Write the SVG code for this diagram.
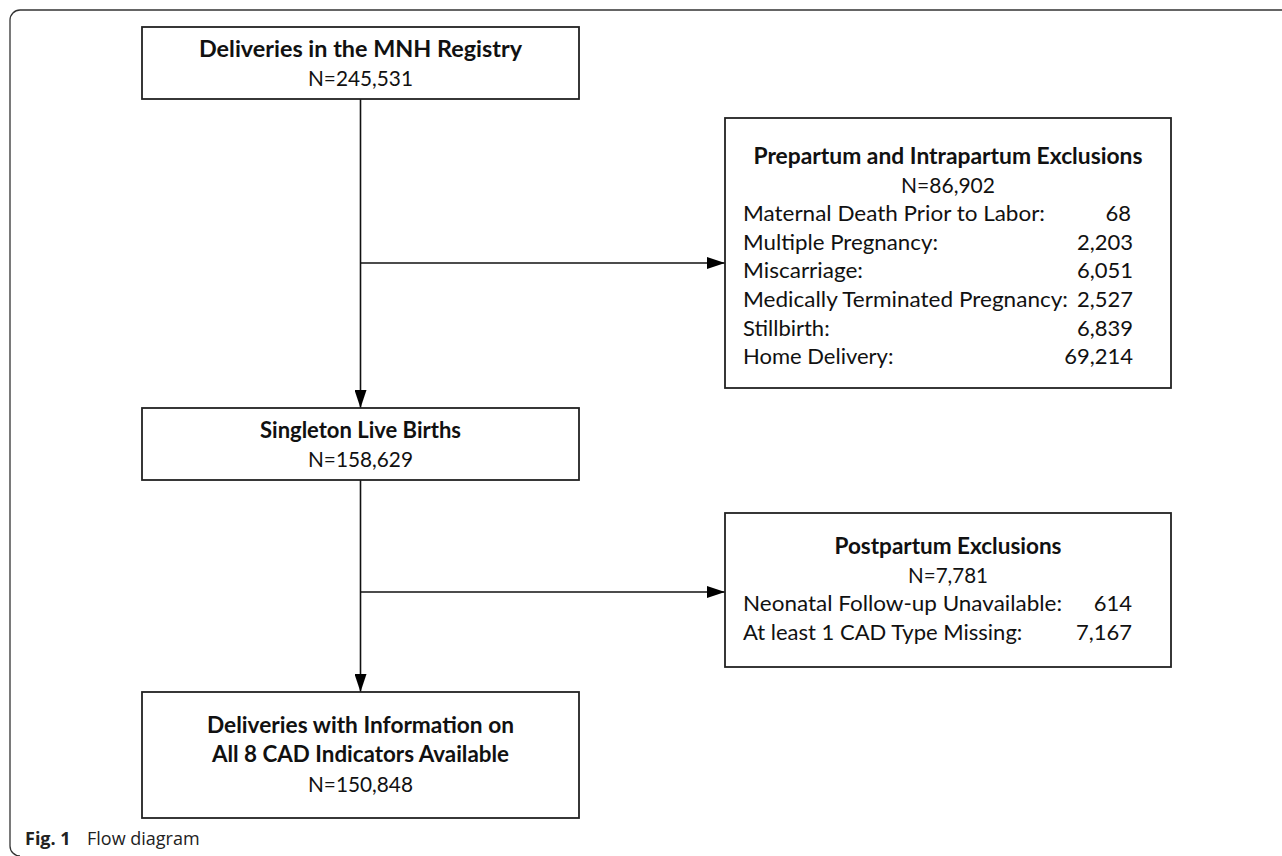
<svg xmlns="http://www.w3.org/2000/svg" width="1282" height="856" viewBox="0 0 1282 856">
<style>
.box{fill:#fff;stroke:#222;stroke-width:1.8}
.t{font-family:Lato,"Liberation Sans",sans-serif;font-size:22px;fill:#111}
.b{font-weight:bold}
.c{text-anchor:middle}
.r{text-anchor:end}
.ln{stroke:#111;stroke-width:1.6;fill:none}
.cap{font-family:"Open Sans","Noto Sans",sans-serif;font-size:18px;fill:#222}
</style>
<defs>
<marker id="ah" viewBox="0 0 18 12" refX="18" refY="6" markerWidth="18" markerHeight="12" markerUnits="userSpaceOnUse" orient="auto">
<path d="M0,0 L18,6 L0,12 Z" fill="#000"/>
</marker>
</defs>
<path d="M1282,10 H20 A10,10 0 0 0 10,20 V846 A10,10 0 0 0 20,856" fill="none" stroke="#333" stroke-width="1.3"/>
<g id="connectors">
<path class="ln" d="M360.5,99 V408" marker-end="url(#ah)"/>
<path class="ln" d="M360.5,263 H725" marker-end="url(#ah)"/>
<path class="ln" d="M360.5,480 V692" marker-end="url(#ah)"/>
<path class="ln" d="M360.5,592 H725" marker-end="url(#ah)"/>
</g>
<g id="n1">
<rect class="box" x="142" y="27" width="437" height="72"/>
<text class="t b c" x="360.5" y="57" textLength="323" lengthAdjust="spacingAndGlyphs">Deliveries in the MNH Registry</text>
<text class="t c" x="360.5" y="86" textLength="105" lengthAdjust="spacingAndGlyphs">N=245,531</text>
</g>
<g id="n2">
<rect class="box" x="725" y="118" width="446" height="270"/>
<text class="t b c" x="948" y="164" textLength="389" lengthAdjust="spacingAndGlyphs">Prepartum and Intrapartum Exclusions</text>
<text class="t c" x="948" y="193" textLength="94" lengthAdjust="spacingAndGlyphs">N=86,902</text>
<text class="t" x="743" y="221" textLength="302" lengthAdjust="spacingAndGlyphs">Maternal Death Prior to Labor:</text>
<text class="t r" x="1131" y="221">68</text>
<text class="t" x="743" y="250" textLength="195" lengthAdjust="spacingAndGlyphs">Multiple Pregnancy:</text>
<text class="t r" x="1133" y="250">2,203</text>
<text class="t" x="743" y="278" textLength="120" lengthAdjust="spacingAndGlyphs">Miscarriage:</text>
<text class="t r" x="1133" y="278">6,051</text>
<text class="t" x="743" y="307" textLength="325" lengthAdjust="spacingAndGlyphs">Medically Terminated Pregnancy:</text>
<text class="t r" x="1133" y="307">2,527</text>
<text class="t" x="743" y="336">Stillbirth:</text>
<text class="t r" x="1133" y="336">6,839</text>
<text class="t" x="743" y="364">Home Delivery:</text>
<text class="t r" x="1133" y="364">69,214</text>
</g>
<g id="n3">
<rect class="box" x="142" y="408" width="437" height="72"/>
<text class="t b c" x="360.5" y="438">Singleton Live Births</text>
<text class="t c" x="360.5" y="467" textLength="105" lengthAdjust="spacingAndGlyphs">N=158,629</text>
</g>
<g id="n4">
<rect class="box" x="725" y="513" width="446" height="154"/>
<text class="t b c" x="948" y="554" textLength="227" lengthAdjust="spacingAndGlyphs">Postpartum Exclusions</text>
<text class="t c" x="948" y="583" textLength="80" lengthAdjust="spacingAndGlyphs">N=7,781</text>
<text class="t" x="743" y="611" textLength="319" lengthAdjust="spacingAndGlyphs">Neonatal Follow-up Unavailable:</text>
<text class="t r" x="1132" y="611">614</text>
<text class="t" x="743" y="640">At least 1 CAD Type Missing:</text>
<text class="t r" x="1132" y="640">7,167</text>
</g>
<g id="n5">
<rect class="box" x="142" y="692" width="437" height="126"/>
<text class="t b c" x="360.5" y="733" textLength="307" lengthAdjust="spacingAndGlyphs">Deliveries with Information on</text>
<text class="t b c" x="360.5" y="762" textLength="297" lengthAdjust="spacingAndGlyphs">All 8 CAD Indicators Available</text>
<text class="t c" x="360.5" y="792" textLength="105" lengthAdjust="spacingAndGlyphs">N=150,848</text>
</g>
<text class="cap" x="25" y="845"><tspan font-weight="bold">Fig. 1</tspan><tspan x="87">Flow diagram</tspan></text>
</svg>
